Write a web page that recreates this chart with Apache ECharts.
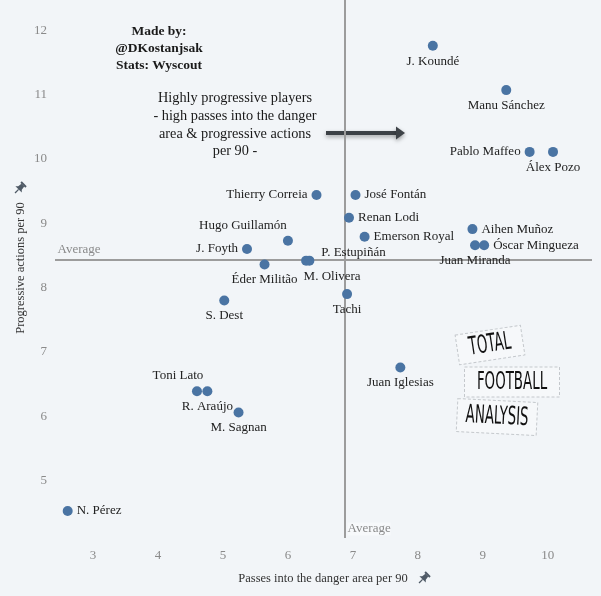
<!DOCTYPE html>
<html>
<head>
<meta charset="utf-8">
<script src="https://cdn.jsdelivr.net/npm/echarts@6/dist/echarts.min.js"></script>
<style>
  html, body { margin: 0; padding: 0; background: #f2f5f8; }
  #chart { width: 601px; height: 596px; }
</style>
</head>
<body>
<div id="chart"></div>
<script>
// ---------- data ----------
const players = ['J. Koundé','Manu Sánchez','Pablo Maffeo','Álex Pozo','Thierry Correia','José Fontán',
  'Renan Lodi','Emerson Royal','Hugo Guillamón','J. Foyth','Éder Militão','P. Estupiñán','M. Olivera',
  'Tachi','S. Dest','Aihen Muñoz','Juan Miranda','Óscar Mingueza','Juan Iglesias','Toni Lato',
  'R. Araújo','M. Sagnan','N. Pérez'];
const passesDanger = [8.23, 9.36, 9.72, 10.08, 6.44, 7.04,
  6.94, 7.18, 6.00, 5.37, 5.64, 6.33, 6.28,
  6.91, 5.02, 8.84, 8.88, 9.02, 7.73, 4.60,
  4.76, 5.24, 2.61];
const progActions = [11.76, 11.07, 10.11, 10.11, 9.44, 9.44,
  9.085, 8.79, 8.73, 8.60, 8.36, 8.42, 8.42,
  7.90, 7.80, 8.91, 8.66, 8.66, 6.76, 6.39,
  6.39, 6.06, 4.53];
const avgPasses = 6.88;
const avgProg = 8.44;
const xTicks = [3, 4, 5, 6, 7, 8, 9, 10];
const yTicks = [5, 6, 7, 8, 9, 10, 11, 12];
const xRange = [2.415, 10.68];
const yRange = [4.11, 12.47];

// ---------- label placement (style) ----------
const placement = {
  'J. Koundé': {position: 'bottom'},
  'Manu Sánchez': {position: 'bottom'},
  'Pablo Maffeo': {position: 'left'},
  'Álex Pozo': {position: 'bottom'},
  'Thierry Correia': {position: 'left'},
  'José Fontán': {position: 'right'},
  'Renan Lodi': {position: 'right'},
  'Emerson Royal': {position: 'right'},
  'Hugo Guillamón': {position: 'top', shift: [-45, 0]},
  'J. Foyth': {position: 'left'},
  'Éder Militão': {position: 'bottom'},
  'P. Estupiñán': {position: 'right', distance: 7, shift: [0, -8]},
  'M. Olivera': {position: 'bottom', shift: [26, 0]},
  'Tachi': {position: 'bottom'},
  'S. Dest': {position: 'bottom'},
  'Aihen Muñoz': {position: 'right'},
  'Juan Miranda': {position: 'bottom'},
  'Óscar Mingueza': {position: 'right'},
  'Juan Iglesias': {position: 'bottom'},
  'Toni Lato': {position: 'top', shift: [-19, 0]},
  'R. Araújo': {position: 'bottom'},
  'M. Sagnan': {position: 'bottom'},
  'N. Pérez': {position: 'right'}
};

const serif = "'Liberation Serif', 'DejaVu Serif', serif";
const narrow = "'Liberation Sans Narrow', 'DejaVu Sans Condensed', 'DejaVu Sans', sans-serif";

const pointData = players.map((n, i) => {
  const p = placement[n];
  const lab = {position: p.position};
  if (p.distance) lab.distance = p.distance;
  return {name: n, value: [passesDanger[i], progActions[i]], label: lab};
});

function pin(x, y) {
  const c = '#4f5a66';
  return {
    type: 'group', x: x, y: y, rotation: -Math.PI / 4,
    children: [
      {type: 'rect', shape: {x: -3.5, y: -6, width: 7, height: 2}, style: {fill: c}},
      {type: 'polygon', shape: {points: [[-2, -4], [2, -4], [2.5, 0], [4.5, 2], [-4.5, 2], [-2.5, 0]]}, style: {fill: c}},
      {type: 'line', shape: {x1: 0, y1: 2, x2: 0, y2: 7}, style: {stroke: c, lineWidth: 1.3}}
    ]
  };
}

function logoBox(cx, cy, rot, w, h, txt, txtW) {
  return {
    type: 'group', x: cx, y: cy, rotation: rot, z: 5,
    children: [
      {type: 'rect', shape: {x: -w / 2, y: -h / 2, width: w, height: h},
        style: {fill: 'rgba(255,255,255,0.35)', stroke: '#c4c8cc', lineWidth: 1, lineDash: [3, 2]}},
      {type: 'text', x: 0, y: 0, scaleX: txtW, scaleY: 1.05, style: {text: txt, font: '300 24px ' + narrow,
        fill: '#111', align: 'center', verticalAlign: 'middle'}}
    ]
  };
}

const chart = echarts.init(document.getElementById('chart'), null, {renderer: 'canvas'});
chart.setOption({
  backgroundColor: '#f2f5f8',
  animation: false,
  grid: {left: 55, right: 9, top: 0, bottom: 58, containLabel: false},
  xAxis: {
    type: 'value', min: xRange[0], max: xRange[1],
    axisLine: {show: false}, axisTick: {show: false}, splitLine: {show: false},
    axisLabel: {customValues: xTicks, color: '#8a8a8a', fontFamily: serif, fontSize: 13, margin: 11}
  },
  yAxis: {
    type: 'value', min: yRange[0], max: yRange[1],
    axisLine: {show: false}, axisTick: {show: false}, splitLine: {show: false},
    axisLabel: {customValues: yTicks, color: '#8a8a8a', fontFamily: serif, fontSize: 13, margin: 8}
  },
  series: [
    {
      type: 'scatter',
      symbolSize: 10,
      itemStyle: {color: '#4a74a3', opacity: 1},
      label: {show: true, formatter: '{b}', color: '#222', fontFamily: serif, fontSize: 13, distance: 4},
      labelLayout: function (params) {
        const p = placement[players[params.dataIndex]];
        const s = (p && p.shift) || [0, 0];
        return {dx: s[0], dy: s[1], hideOverlap: false};
      },
      data: pointData,
      z: 3,
      markLine: {
        silent: true, symbol: 'none',
        lineStyle: {color: '#9c9c9c', width: 2, type: 'solid'},
        label: {show: false},
        data: [{xAxis: avgPasses}, {yAxis: avgProg}],
        z: 1
      }
    },
    {
      type: 'scatter', symbol: 'circle', symbolSize: 1, silent: true,
      itemStyle: {color: 'transparent'},
      label: {show: true, formatter: 'Average', position: 'right', color: '#6e6e6e',
        fontFamily: serif, fontSize: 13, distance: 2, offset: [0, -10]},
      data: [[xRange[0], avgProg]]
    },
    {
      type: 'scatter', symbol: 'circle', symbolSize: 1, silent: true,
      itemStyle: {color: 'transparent'},
      label: {show: true, formatter: 'Average', position: 'right', color: '#6e6e6e',
        fontFamily: serif, fontSize: 13, distance: 2, offset: [0, -9],
        backgroundColor: 'rgba(255,255,255,0.5)'},
      data: [[avgPasses, yRange[0]]]
    }
  ],
  graphic: [
    {type: 'text', x: 159, y: 49, style: {text: 'Made by:\n@DKostanjsak\nStats: Wyscout',
      font: 'bold 13.5px ' + serif, fill: '#1a1a1a', align: 'center', verticalAlign: 'middle', lineHeight: 17}},
    {type: 'text', x: 235, y: 125, style: {text: 'Highly progressive players\n- high passes into the danger\narea & progressive actions\nper 90 -',
      font: '14.3px ' + serif, fill: '#1a1a1a', align: 'center', verticalAlign: 'middle', lineHeight: 17.6}},
    {type: 'line', shape: {x1: 326, y1: 133, x2: 398, y2: 133},
      style: {stroke: '#3d4247', lineWidth: 4, shadowBlur: 4, shadowColor: 'rgba(0,0,0,0.35)', shadowOffsetY: 2}},
    {type: 'polygon', shape: {points: [[396, 126.5], [405, 133], [396, 139.5]]},
      style: {fill: '#3d4247', shadowBlur: 4, shadowColor: 'rgba(0,0,0,0.35)', shadowOffsetY: 2}},
    {type: 'text', x: 21, y: 268, rotation: Math.PI / 2, style: {text: 'Progressive actions per 90',
      font: '12.5px ' + serif, fill: '#333', align: 'center', verticalAlign: 'middle'}},
    pin(20, 188),
    {type: 'text', x: 323, y: 579, style: {text: 'Passes into the danger area per 90',
      font: '12.5px ' + serif, fill: '#333', align: 'center', verticalAlign: 'middle'}},
    pin(424, 578),
    logoBox(490, 345, 0.15, 66, 30, 'TOTAL', 0.62),
    logoBox(512, 382, 0, 95, 30, 'FOOTBALL', 0.62),
    logoBox(497, 417, -0.05, 80, 33, 'ANALYSIS', 0.62)
  ]
});
</script>
</body>
</html>
